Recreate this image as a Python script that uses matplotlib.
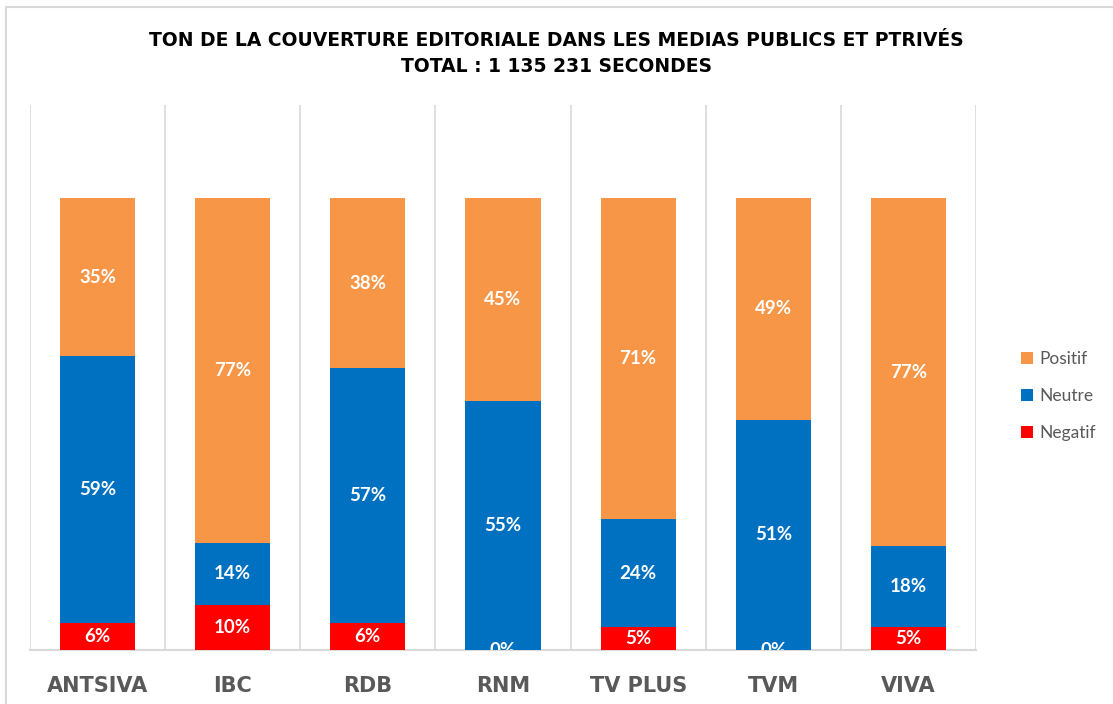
import matplotlib
matplotlib.use("Agg")
import matplotlib.pyplot as plt
import numpy as np
from matplotlib.patches import Rectangle

# Data (percent)
medias = ["ANTSIVA", "IBC", "RDB", "RNM", "TV PLUS", "TVM", "VIVA"]
negatif = [6, 10, 6, 0, 5, 0, 5]
neutre = [59, 14, 57, 55, 24, 51, 18]
positif = [35, 77, 38, 45, 71, 49, 77]

series = [("Negatif", negatif, "#FF0000"),
          ("Neutre", neutre, "#0070C0"),
          ("Positif", positif, "#F79646")]

plt.rcParams["font.family"] = ["Lato", "DejaVu Sans"]
wide = ["DejaVu Sans"]  # wide face to mimic the letter-spaced caps

fig = plt.figure(figsize=(11.13, 7.04), dpi=100)
ax = fig.add_axes([30 / 1113, 1 - 650 / 704, 946 / 1113, 545 / 704])

# outer chart frame
fig.patches.append(Rectangle((6 / 1113, -0.05), 1.1, 1 - 7 / 704 + 0.05,
                             transform=fig.transFigure, fill=False,
                             edgecolor="#D9D9D9", linewidth=1.5))

x = np.arange(len(medias))
totals = np.sum([negatif, neutre, positif], axis=0)
bottom = np.zeros(len(medias))
handles = []
for name, vals, col in series:
    frac = np.array(vals) / totals
    b = ax.bar(x, frac, 0.555, bottom=bottom, color=col, label=name, zorder=3)
    handles.append(b)
    for xi, f, bt, v in zip(x, frac, bottom, vals):
        ax.text(xi, bt + f / 2, f"{v}%", ha="center", va="center",
                color="white", fontsize=13.5, fontweight="bold", zorder=4,
                clip_on=True)
    bottom += frac

ax.set_xlim(-0.5, len(medias) - 0.5)
ax.set_ylim(0, 1.206)
ax.set_yticks([])
ax.set_xticks(x)
ax.set_xticklabels(medias, fontsize=15, fontweight="bold", color="#595959",
                   family=wide)
ax.tick_params(axis="x", length=0, pad=19)
for k in range(len(medias) + 1):
    ax.axvline(k - 0.5, color="#D9D9D9", linewidth=1.2, zorder=1)
for s in ["top", "left", "right"]:
    ax.spines[s].set_visible(False)
ax.spines["bottom"].set_color("#D9D9D9")
ax.spines["bottom"].set_linewidth(1.5)

fig.text(0.5, 1 - 40 / 704, "TON DE LA COUVERTURE EDITORIALE DANS LES MEDIAS PUBLICS ET PTRIVÉS",
         ha="center", va="center", fontsize=13.5, fontweight="bold", color="#000000",
         family=wide)
fig.text(0.5, 1 - 66 / 704, "TOTAL : 1 135 231 SECONDES",
         ha="center", va="center", fontsize=13.5, fontweight="bold", color="#000000",
         family=wide)

leg = fig.legend(handles[::-1], [s[0] for s in series][::-1],
                 loc="center left", bbox_to_anchor=(1005 / 1113, 1 - 396 / 704),
                 frameon=False, fontsize=12.5, handlelength=0.7, handleheight=0.7,
                 handletextpad=0.4, labelspacing=1.2, labelcolor="#595959")

fig.savefig("out.png", dpi=100)
